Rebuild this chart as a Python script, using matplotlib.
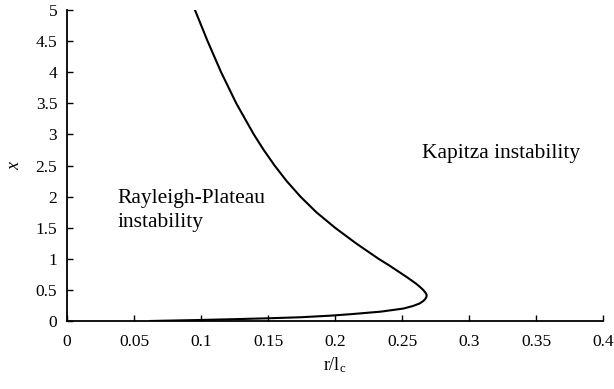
import matplotlib
matplotlib.use("Agg")
import matplotlib.pyplot as plt

# Curve data (x vs r/l_c), traced from x=0 up to x=5
x_vals = [0.0, 0.008, 0.016, 0.03, 0.043, 0.06, 0.085, 0.11, 0.15, 0.20, 0.24, 0.28,
          0.32, 0.35, 0.38, 0.418, 0.45, 0.50, 0.55, 0.60, 0.70, 0.80, 0.90, 1.0,
          1.25, 1.5, 1.75, 2.0, 2.25, 2.5, 2.75, 3.0, 3.5, 4.0, 4.5, 5.0]
r_vals = [0.062, 0.080, 0.099, 0.126, 0.149, 0.174, 0.196, 0.212, 0.234, 0.251, 0.258, 0.263,
          0.2658, 0.2672, 0.2681, 0.2684, 0.2677, 0.2658, 0.2633, 0.2605, 0.254, 0.247, 0.240, 0.2325,
          0.2156, 0.2000, 0.1860, 0.1742, 0.1639, 0.1549, 0.1468, 0.1394, 0.1263, 0.1150, 0.1049, 0.0955]

x_ticks = [0, 0.05, 0.1, 0.15, 0.2, 0.25, 0.3, 0.35, 0.4]
x_ticklabels = ["0", "0.05", "0.1", "0.15", "0.2", "0.25", "0.3", "0.35", "0.4"]
y_ticks = [0, 0.5, 1, 1.5, 2, 2.5, 3, 3.5, 4, 4.5, 5]
y_ticklabels = ["0", "0.5", "1", "1.5", "2", "2.5", "3", "3.5", "4", "4.5", "5"]

plt.rcParams['font.family'] = ['Liberation Serif', 'DejaVu Serif']
plt.rcParams['mathtext.fontset'] = 'custom'
plt.rcParams['mathtext.rm'] = 'Liberation Serif'
plt.rcParams['mathtext.it'] = 'Liberation Serif:italic'

fig = plt.figure(figsize=(6.14, 3.89), dpi=100)
ax = fig.add_axes([67/614, 1-321/389, (603-67)/614, (321-10)/389])

ax.plot(r_vals, x_vals, color='black', linewidth=1.5, solid_joinstyle='round')

ax.set_xlim(0, 0.4)
ax.set_ylim(0, 5)
ax.set_xticks(x_ticks)
ax.set_xticklabels(x_ticklabels)
ax.set_yticks(y_ticks)
ax.set_yticklabels(y_ticklabels)

for s in ['top', 'right']:
    ax.spines[s].set_visible(False)
for s in ['left', 'bottom']:
    ax.spines[s].set_linewidth(1.3)
ax.tick_params(direction='in', length=4, width=1.0, labelsize=12.5, pad=9)
ax.tick_params(axis='y', pad=7)

ax.set_xlabel(r"r/l$_{\mathrm{c}}$", fontsize=13, labelpad=4)
ax.set_ylabel("x", fontsize=13, style='italic', labelpad=9)

ax.text(0.0375, 1.897, "Rayleigh-Plateau", fontsize=15.5, ha='left', va='baseline')
ax.text(0.0375, 1.511, "instability", fontsize=15.5, ha='left', va='baseline')
ax.text(0.2647, 2.62, "Kapitza instability", fontsize=15.5, ha='left', va='baseline')

fig.savefig("out.png", dpi=100)
